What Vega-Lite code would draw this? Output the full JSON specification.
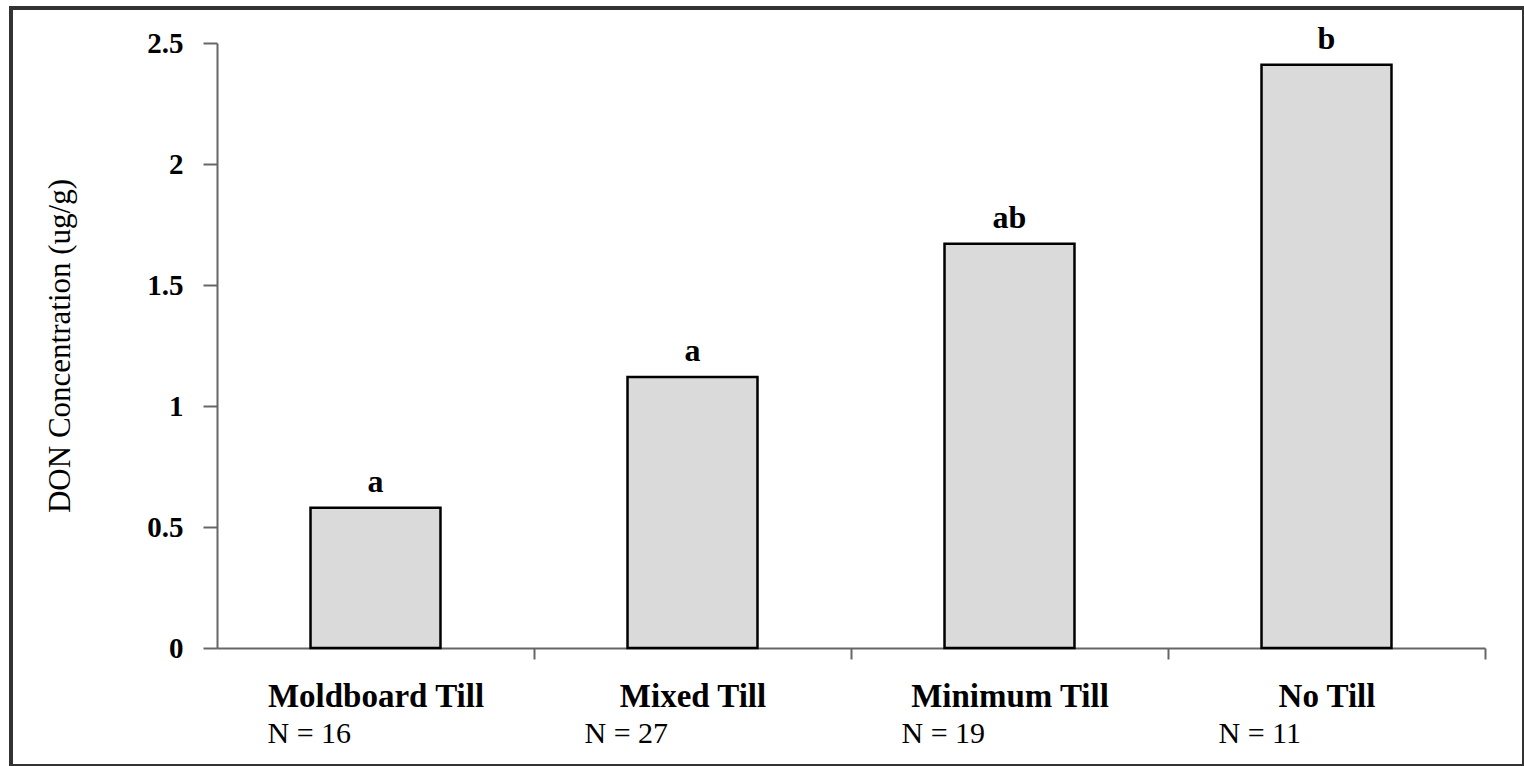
{
  "$schema": "https://vega.github.io/schema/vega-lite/v6.json",
  "width": 1513,
  "height": 758,
  "padding": {"left": 11, "top": 8, "right": 0, "bottom": 0},
  "autosize": {"type": "none"},
  "background": "white",
  "config": {
    "view": {"stroke": "#333333", "strokeWidth": 4},
    "font": "Liberation Serif"
  },
  "data": {
    "values": [
      {"tillage": "Moldboard Till", "don": 0.58, "letter": "a", "n": "N = 16"},
      {"tillage": "Mixed Till", "don": 1.12, "letter": "a", "n": "N = 27"},
      {"tillage": "Minimum Till", "don": 1.67, "letter": "ab", "n": "N = 19"},
      {"tillage": "No Till", "don": 2.41, "letter": "b", "n": "N = 11"}
    ]
  },
  "encoding": {
    "y": {
      "field": "don",
      "type": "quantitative",
      "scale": {"domain": [0, 2.5], "range": [640, 35], "nice": false},
      "axis": {
        "orient": "left",
        "offset": -206,
        "values": [0, 0.5, 1, 1.5, 2, 2.5],
        "format": "~g",
        "grid": false,
        "domainColor": "#666666",
        "domainWidth": 2,
        "tickColor": "#666666",
        "tickWidth": 2,
        "tickSize": 14,
        "labelFontSize": 29,
        "labelFontWeight": "bold",
        "labelColor": "black",
        "labelPadding": 20,
        "title": "DON Concentration (ug/g)",
        "titleFontSize": 31,
        "titleFontWeight": "normal",
        "titleColor": "black",
        "titlePadding": 70
      }
    }
  },
  "layer": [
    {
      "mark": {"type": "bar", "fill": "#dadada", "stroke": "black", "strokeWidth": 2.5},
      "encoding": {
        "x": {
          "field": "tillage",
          "type": "nominal",
          "sort": null,
          "scale": {"range": [206, 1474], "paddingInner": 0.59, "paddingOuter": 0.295},
          "axis": {
            "orient": "bottom",
            "offset": -118,
            "title": null,
            "labelAngle": 0,
            "labelLimit": 0,
            "tickOffset": 158.5,
            "labelOffset": -158.5,
            "domainColor": "#666666",
            "domainWidth": 2,
            "tickColor": "#666666",
            "tickWidth": 2,
            "tickSize": 11,
            "labelFontSize": 33,
            "labelFontWeight": "bold",
            "labelColor": "black",
            "labelPadding": 21
          }
        }
      }
    },
    {
      "mark": {"type": "text", "fontSize": 32, "fontWeight": "bold", "baseline": "alphabetic", "dy": -16, "color": "black"},
      "encoding": {
        "x": {
          "field": "tillage",
          "type": "nominal",
          "sort": null,
          "axis": {
            "orient": "bottom",
            "offset": -118,
            "title": null,
            "labelAngle": 0,
            "labelLimit": 0,
            "domain": false,
            "ticks": false,
            "tickSize": 0,
            "labelExpr": "{'Moldboard Till': 'N = 16', 'Mixed Till': 'N = 27', 'Minimum Till': 'N = 19', 'No Till': 'N = 11'}[datum.label]",
            "labelFontSize": 30,
            "labelFontWeight": "normal",
            "labelColor": "black",
            "labelPadding": 70,
            "labelAlign": "left",
            "labelOffset": -108
          }
        },
        "text": {"field": "letter"}
      }
    }
  ],
  "resolve": {"axis": {"x": "independent"}}
}
